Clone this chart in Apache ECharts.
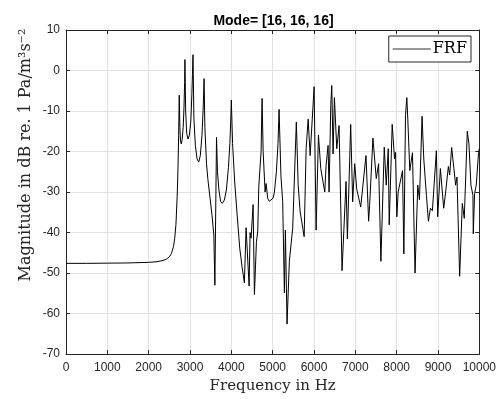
<!DOCTYPE html>
<html>
<head>
<meta charset="utf-8">
<script src="https://cdn.jsdelivr.net/npm/echarts@6/dist/echarts.min.js"></script>
<style>html,body{margin:0;padding:0;background:#fff}#c{width:499px;height:399px}</style>
</head>
<body>
<div id="c"></div>
<script>
// Frequency (Hz) and magnitude (dB)
const freq = [
0,500,1000,1500,2000,2200,2300,2400,2450,2500,2550,2600,2630,2660,2690,2710,2725,2740,
2755,2770,2789,2810,2835,2855,2870,2878,
2895,2920,2951,2985,3020,3045,3060,3073,
3095,3130,3170,3211,3250,3290,3320,3341,
3360,3400,3431,3480,3530,3577,3602,3642,
3665,3700,3740,3780,3830,3880,3930,3965,3990,4000,
4030,4081,4140,4203,4260,4316,4357,4430,4454,4478,4527,4559,4607,4640,4664,4688,4720,4744,
4770,4817,4841,4881,4920,4962,5010,5042,5090,5130,5155,
5200,5243,5284,5308,5348,5404,5485,5573,
5618,5666,5762,5810,5859,5907,6003,6051,6108,6164,6261,6293,6341,6365,6406,6430,6462,6494,6551,6607,6679,6775,6808,6888,6936,6985,7033,
7130,7258,7322,7346,7426,7507,7563,7619,7700,7748,7797,7820,7892,7949,7973,8005,8037,8142,8174,8214,8246,8270,8318,8383,8445,8511,8552,8615,8656,8720,8768,8817,8865,8961,8993,9058,9138,9186,9251,9283,9331,9371,9427,9460,9524,9588,9636,9709,9749,9797,9846,9854,9886,9926,9982,10000
];
const magnitude = [
-47.6,-47.6,-47.55,-47.5,-47.35,-47.2,-47.0,-46.7,-46.4,-46.0,-45.2,-43.5,-41.5,-38,-31,-24,-16,-6.1,
-14,-17.5,-18.1,-17,-14,-9,-3,2.7,
-10,-15.5,-16.9,-16,-12.5,-6,-1,3.9,
-12,-18.5,-21.8,-22.6,-21,-16,-9,-2.0,
-14,-23,-26.7,-31,-35.5,-40.6,-53.0,-16.5,
-25,-29.5,-32.3,-32.8,-32,-29.5,-24,-18,-11,-7.3,
-18,-27.5,-35.5,-43.8,-48.5,-52.4,-38.8,-53.2,-40,-41.4,-33.1,-55.3,-42.4,-39.6,-28.7,-28.5,-20,-6.9,
-20,-30,-27.9,-31.6,-32.3,-32.4,-31.5,-30,-25,-18,-9.6,
-26,-32.4,-54.9,-39.4,-62.6,-47.1,-38.9,-12.7,
-28.4,-34.9,-41,-19.3,-12,-21,-4,-39.4,-15.9,-24.2,-30,-23.4,-18.5,-30,-8.7,-3.7,-20.6,-6.7,-19.3,-13.6,-49.4,-27.4,-41.6,-13.3,-32.4,-23,-29.2,
-33.7,-21,-37.2,-33.3,-16.7,-26.7,-23,-47.1,-18.9,-28.3,-19.3,-38.1,-13.3,-21.8,-20.2,-36.1,-30,-24.7,-45.3,-11.1,-6.7,-12,-24.7,-20.3,-50,-28.3,-31.9,-11.3,-21.8,-30.8,-37.2,-34,-34.6,-19.8,-36.1,-24.2,-34,-30,-23.7,-25.8,-19,-18.6,-28.3,-26.3,-50.8,-32.8,-36.5,-15,-18.1,-28.3,-30.8,-40.3,-30.4,-28.3,-20.2,-19.3
];
const titleText = 'Mode= [16, 16, 16]';
const seriesName = 'FRF';
const xLabel = 'Frequency in Hz';
const yLabel = 'Magnitude in dB re. 1 Pa/m³s⁻²';

const pts = freq.map((f, i) => [f, magnitude[i]]);
const axisCol = '#262626';
const gridCol = '#e2e2e2';
const sans = 'Liberation Sans, Arial, sans-serif';
const serif = 'DejaVu Serif, serif';

const chart = echarts.init(document.getElementById('c'), null, {renderer: 'canvas'});
const baseX = {
  type: 'value', min: 0, max: 10000, interval: 1000,
  axisLine: {show: true, onZero: false, lineStyle: {color: axisCol, width: 1}},
  axisTick: {show: true, inside: true, length: 4, lineStyle: {color: axisCol}}
};
const baseY = {
  type: 'value', min: -70, max: 10, interval: 10,
  axisLine: {show: true, onZero: false, lineStyle: {color: axisCol, width: 1}},
  axisTick: {show: true, inside: true, length: 4, lineStyle: {color: axisCol}}
};
chart.setOption({
  animation: false,
  backgroundColor: '#fff',
  title: {
    text: titleText, left: 273.5, top: 14, textAlign: 'center', padding: 0,
    textStyle: {fontFamily: sans, fontWeight: 'bold', fontSize: 14, color: '#000'}
  },
  grid: {left: 66, right: 18, top: 30, bottom: 43},
  legend: {
    data: [{name: seriesName, icon: 'rect'}], right: 28, top: 36,
    padding: [5, 4, 5, 4], itemWidth: 38, itemHeight: 1, itemGap: 0,
    borderColor: axisCol, borderWidth: 1, backgroundColor: '#fff',
    itemStyle: {color: '#333'},
    textStyle: {fontFamily: serif, fontSize: 16, color: '#000', padding: [0, 0, 0, -3]}
  },
  xAxis: [
    Object.assign({}, baseX, {
      position: 'bottom',
      axisLabel: {show: true, margin: 8, fontFamily: sans, fontSize: 12, color: axisCol,
        formatter: v => String(v)},
      splitLine: {show: true, lineStyle: {color: gridCol, width: 1}},
      name: xLabel, nameLocation: 'middle', nameGap: 22,
      nameTextStyle: {fontFamily: serif, fontSize: 15, color: axisCol}
    }),
    Object.assign({}, baseX, {
      position: 'top', axisLabel: {show: false}, splitLine: {show: false}
    })
  ],
  yAxis: [
    Object.assign({}, baseY, {
      position: 'left',
      axisLabel: {show: true, margin: 6, fontFamily: sans, fontSize: 12, color: axisCol,
        formatter: v => String(v)},
      splitLine: {show: true, lineStyle: {color: gridCol, width: 1}}
    }),
    Object.assign({}, baseY, {
      position: 'right', axisLabel: {show: false}, splitLine: {show: false}
    })
  ],
  graphic: [{
    type: 'text', x: 26, y: 155, rotation: Math.PI / 2,
    style: {text: yLabel, font: '16px DejaVu Serif', fill: axisCol, textAlign: 'center', textVerticalAlign: 'middle'}
  }],
  series: [{
    name: seriesName, type: 'line', data: pts, xAxisIndex: 0, yAxisIndex: 0,
    symbol: 'none', showSymbol: false, smooth: false,
    lineStyle: {color: '#000', width: 1}, itemStyle: {color: '#000'}
  }]
});
</script>
</body>
</html>
